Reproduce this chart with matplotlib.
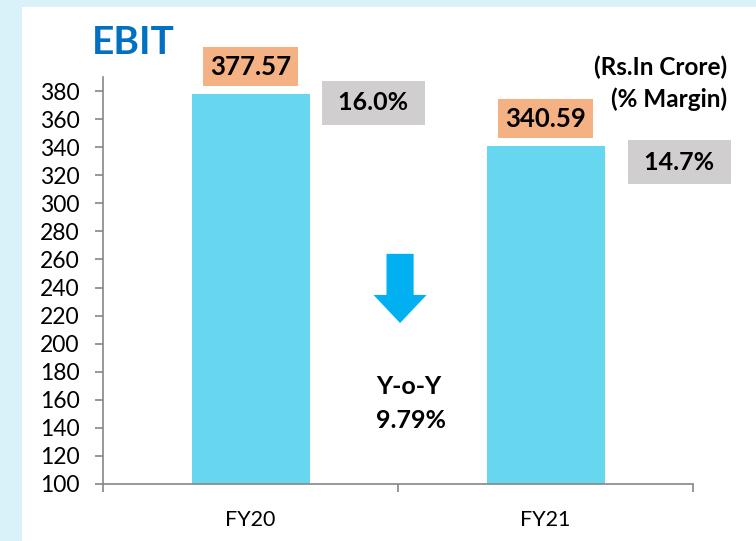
import matplotlib
matplotlib.use("Agg")
import matplotlib.pyplot as plt
from matplotlib.patches import Rectangle, FancyArrow

plt.rcParams['font.family'] = ['Lato', 'DejaVu Sans']

# data
years = ['FY20', 'FY21']
ebit = [377.57, 340.59]
margins = ['16.0%', '14.7%']
yoy_change = '9.79%'
yticks = list(range(100, 381, 20))

BAR = '#67D7F0'
ORANGE = '#F4B183'
GREY = '#D0CECE'
AXIS = '#868686'

W, H = 756, 541
fig = plt.figure(figsize=(W / 100, H / 100), dpi=100)
fig.patch.set_facecolor('#D9F2FA')
# white slide area (light blue strips left and top)
fig.patches.append(Rectangle((22 / W, 0), 1, 1 - 7 / H, transform=fig.transFigure,
                             facecolor='white', edgecolor='none', zorder=-1))

ax = fig.add_axes([103 / W, 1 - 484 / H, 590 / W, 407 / H])
ax.set_facecolor('none')
ax.set_zorder(2)

x = list(range(len(years)))
bars = ax.bar(x, ebit, width=0.4, color=BAR, zorder=2)
ax.set_xlim(-0.5, 1.5)
ax.set_ylim(100, 390)

for s in ['top', 'right']:
    ax.spines[s].set_visible(False)
for s in ['left', 'bottom']:
    ax.spines[s].set_color(AXIS)
    ax.spines[s].set_linewidth(1.2)

ax.set_yticks(yticks)
ax.tick_params(axis='y', length=6, width=1.2, color=AXIS, pad=11, labelsize=16.5)
ax.set_xticks(x)
ax.set_xticklabels(years)
ax.tick_params(axis='x', which='major', length=0, pad=19, labelsize=15.5)
ax.set_xticks([-0.5, 0.5, 1.5], minor=True)
ax.tick_params(axis='x', which='minor', length=6, width=1.2, color=AXIS)

# value labels above bars
for xi, v in zip(x, ebit):
    ax.annotate(f'{v:.2f}', (xi, v), xytext=(0, 20), textcoords='offset points',
                ha='center', va='center', fontsize=18.5, fontweight='bold',
                bbox=dict(boxstyle='square,pad=0.28', facecolor=ORANGE, edgecolor='none'),
                zorder=4, annotation_clip=False)

# margin boxes
margin_pos = [(0.417, 371.5), (1.454, 329.4)]
for (mx, my), m in zip(margin_pos, margins):
    ax.text(mx, my, f' {m} ', ha='center', va='center', fontsize=18, fontweight='bold',
            bbox=dict(boxstyle='square,pad=0.42', facecolor=GREY, edgecolor='none'),
            zorder=4)

# down arrow and Y-o-Y
ax.add_patch(FancyArrow(0.507, 264, 0, -49.3, width=0.092, head_width=0.18,
                        head_length=20, length_includes_head=True,
                        facecolor='#00B0F0', edgecolor='none', zorder=3))
ax.text(0.425, 169.8, 'Y-o-Y', ha='left', va='center', fontsize=18, fontweight='bold')
ax.text(0.425, 144.9, yoy_change, ha='left', va='center', fontsize=18, fontweight='bold')

fig.text(92 / W, 1 - 43 / H, 'EBIT', color='#0070C0', fontsize=28, fontweight='bold',
         ha='left', va='center')
fig.text(727 / W, 1 - 67 / H, '(Rs.In Crore)', ha='right', va='center',
         fontsize=17.5, fontweight='bold')
fig.text(727 / W, 1 - 99 / H, '(% Margin)', ha='right', va='center',
         fontsize=17.5, fontweight='bold')

fig.savefig('out.png', dpi=100)
